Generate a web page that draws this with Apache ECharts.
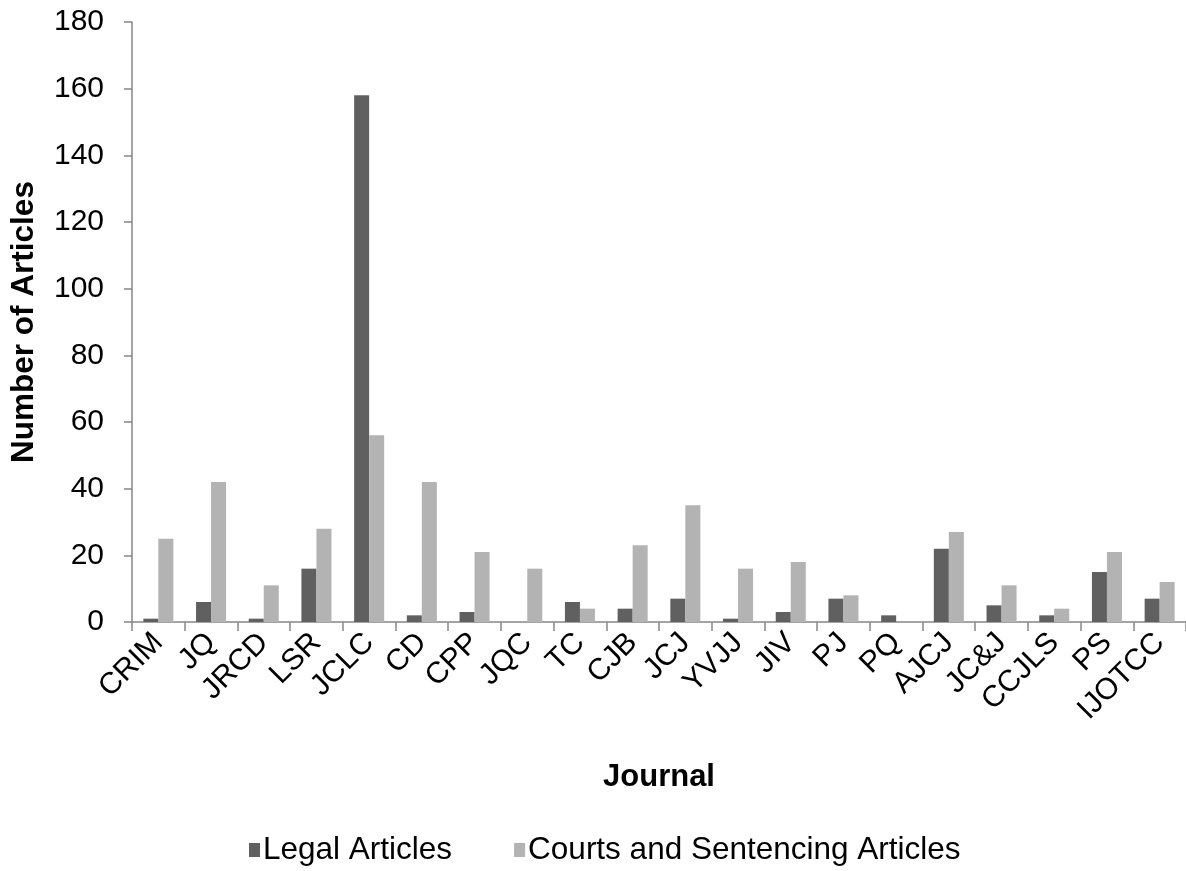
<!DOCTYPE html>
<html>
<head>
<meta charset="utf-8">
<script src="https://cdn.jsdelivr.net/npm/echarts@6/dist/echarts.min.js"></script>
<style>
html,body{margin:0;padding:0;background:#fff;}
#chart{width:1186px;height:871px;}
</style>
</head>
<body>
<div id="chart"></div>
<script>
const journals = ['CRIM','JQ','JRCD','LSR','JCLC','CD','CPP','JQC','TC','CJB','JCJ','YVJJ','JIV','PJ','PQ','AJCJ','JC&J','CCJLS','PS','IJOTCC'];
const legalArticles = [1,6,1,16,158,2,3,0,6,4,7,1,3,7,2,22,5,2,15,7];
const courtsArticles = [25,42,11,28,56,42,21,16,4,23,35,16,18,8,0,27,11,4,21,12];
const seriesNames = ['Legal Articles','Courts and Sentencing Articles'];

const chart = echarts.init(document.getElementById('chart'), null, {renderer:'canvas'});
const font = 'Liberation Sans, Arial, sans-serif';
chart.setOption({
  animation:false,
  backgroundColor:'#fff',
  textStyle:{fontFamily:font},
  legend:{
    data:seriesNames,
    bottom:0,
    left:244,
    itemWidth:11,
    itemHeight:14,
    itemGap:62,
    icon:'rect',
    textStyle:{fontSize:31.5,color:'#000',fontFamily:font,padding:[0,0,0,-2]}
  },
  grid:{left:130.5,top:22,width:1059,height:600},
  xAxis:{
    type:'category',
    data:journals,
    name:'Journal',
    nameLocation:'middle',
    nameGap:140,
    nameTextStyle:{fontSize:31,fontWeight:'bold',color:'#000',fontFamily:font},
    axisLine:{lineStyle:{color:'#868686',width:1.5}},
    axisTick:{show:true,length:9,lineStyle:{color:'#868686',width:1.5}},
    axisLabel:{rotate:45,fontSize:30,color:'#000',margin:16,interval:0,fontFamily:font}
  },
  yAxis:{
    type:'value',
    min:0,max:180,interval:20,
    name:'Number of Articles',
    nameLocation:'middle',
    nameGap:92,
    nameTextStyle:{fontSize:31.5,fontWeight:'bold',color:'#000',fontFamily:font},
    axisLine:{show:true,lineStyle:{color:'#868686',width:1.5}},
    axisTick:{show:true,length:8,lineStyle:{color:'#868686',width:1.5}},
    splitLine:{show:false},
    axisLabel:{fontSize:30,color:'#000',margin:28,fontFamily:font}
  },
  series:[
    {name:seriesNames[0],type:'bar',data:legalArticles,barGap:'0%',barCategoryGap:'43%',itemStyle:{color:'#606060'}},
    {name:seriesNames[1],type:'bar',data:courtsArticles,barGap:'0%',barCategoryGap:'43%',itemStyle:{color:'#b3b3b3'}}
  ]
});
</script>
</body>
</html>
